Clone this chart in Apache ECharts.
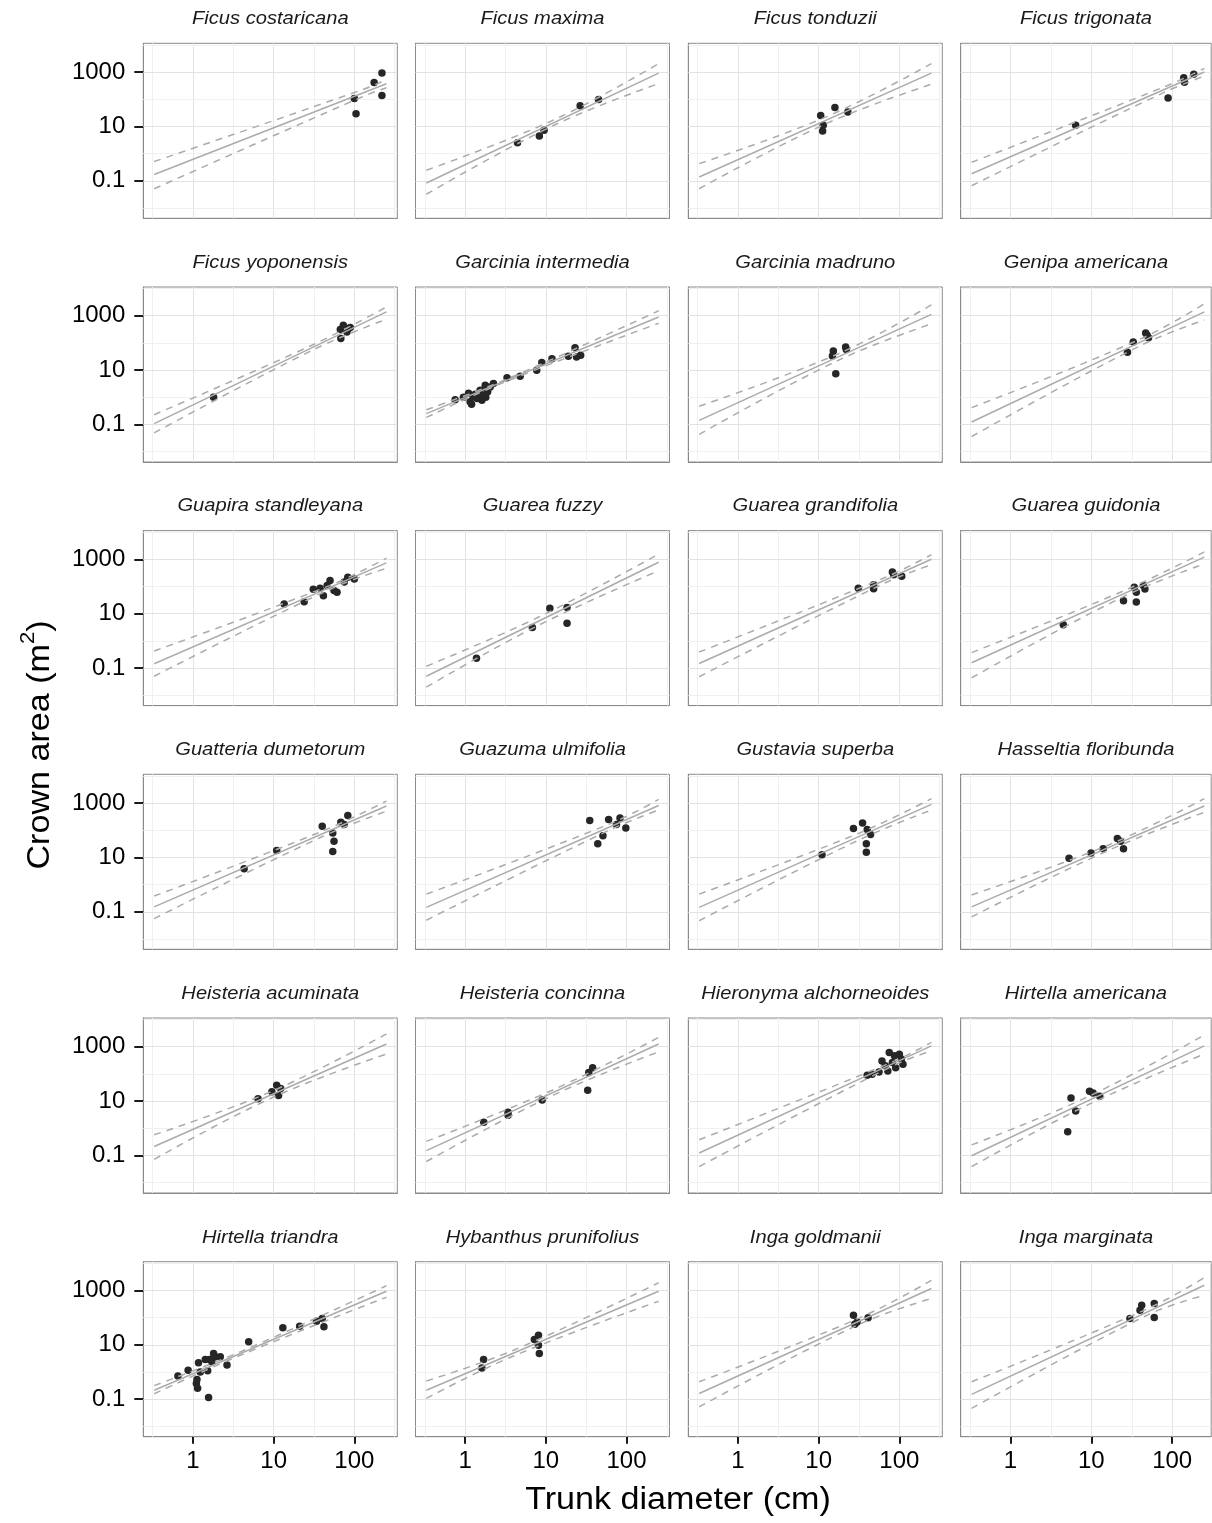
<!DOCTYPE html>
<html>
<head>
<meta charset="utf-8">
<title>Crown area vs trunk diameter</title>
<script src="https://cdn.jsdelivr.net/npm/echarts@6/dist/echarts.min.js"></script>
<style>
  html, body { margin: 0; padding: 0; background: #ffffff; }
  #chart { width: 1212px; height: 1523px; }
</style>
</head>
<body>
<div id="chart"></div>
<script>
// ---- data -------------------------------------------------------------
const species = [
  'Ficus costaricana', 'Ficus maxima', 'Ficus tonduzii', 'Ficus trigonata',
  'Ficus yoponensis', 'Garcinia intermedia', 'Garcinia madruno', 'Genipa americana',
  'Guapira standleyana', 'Guarea fuzzy', 'Guarea grandifolia', 'Guarea guidonia',
  'Guatteria dumetorum', 'Guazuma ulmifolia', 'Gustavia superba', 'Hasseltia floribunda',
  'Heisteria acuminata', 'Heisteria concinna', 'Hieronyma alchorneoides', 'Hirtella americana',
  'Hirtella triandra', 'Hybanthus prunifolius', 'Inga goldmanii', 'Inga marginata'
];

// observed trees: [trunk diameter (cm), crown area (m2)]
const trees = [
  [[220, 920], [176, 410], [100, 105], [105, 29], [220, 138]],
  [[4.45, 2.5], [8.3, 4.4], [9.5, 7.2], [26.6, 58], [45, 97]],
  [[10.6, 25], [15.9, 50], [11.4, 11], [11.2, 6.8], [23, 34]],
  [[6.4, 11], [89, 110], [139, 620], [142, 420], [185, 830]],
  [[1.8, 1.0], [67, 310], [73, 445], [85, 340], [68, 145], [81, 250], [89, 365]],
  [[0.75, 0.82], [0.95, 1.0], [1.15, 0.68], [1.33, 1.3], [1.53, 1.8], [1.77, 2.8], [2.04, 2.4],
   [1.61, 0.78], [1.4, 0.9], [2.24, 3.2], [3.3, 5.2], [8.9, 19], [11.9, 26], [23, 67], [24, 30],
   [27, 35], [1.1, 1.4], [1.8, 1.0], [1.2, 0.55], [1.25, 1.1], [1.6, 1.2], [1.9, 1.6], [4.8, 5.9],
   [7.7, 9.8], [19, 32]],
  [[15.2, 50], [14.8, 33], [21.6, 71], [22, 57], [16.3, 7.4]],
  [[33, 108], [47, 230], [51, 155], [28, 45], [49, 190]],
  [[13.5, 22.5], [23.9, 27.5], [37.6, 86], [41.4, 46], [50, 166], [56, 71], [61, 61], [75, 145],
   [83, 219], [100, 190], [46, 108], [31, 80]],
  [[1.38, 0.23], [6.8, 3.1], [11.2, 15.7], [18.3, 17], [18.3, 4.5]],
  [[31, 86], [48, 115], [48, 82], [82, 340], [85, 270], [107, 240]],
  [[4.5, 3.9], [25, 30], [34, 93], [36, 27], [44, 108], [46, 81], [36, 61]],
  [[4.3, 3.8], [10.9, 18], [40, 141], [56, 39], [54, 79], [68, 196], [83, 350], [75, 162], [54, 16.6]],
  [[35, 228], [60, 245], [83, 282], [51, 63], [44, 32], [75, 162], [98, 121]],
  [[11, 12.5], [27, 115], [35, 185], [40, 105], [44, 69], [39, 32], [39, 15.5]],
  [[5.3, 9.4], [9.9, 14.4], [14, 21], [21, 49], [23, 39], [25, 21]],
  [[6.4, 12.2], [9.5, 22], [10.9, 38], [11.5, 16], [12.2, 29]],
  [[1.7, 1.66], [3.4, 3.9], [3.4, 3.0], [9.0, 11], [33, 25], [34, 112], [38, 170]],
  [[46, 97], [61, 300], [75, 610], [87, 465], [100, 530], [111, 228], [72, 129], [56, 118],
   [90, 170], [106, 350], [82, 265], [67, 198], [40, 90]],
  [[5.6, 13], [5.1, 0.74], [6.4, 4.3], [9.5, 23], [10.5, 20], [12.7, 15]],
  [[0.65, 0.72], [0.87, 1.16], [1.12, 0.53], [1.1, 0.38], [1.17, 2.2], [1.52, 1.1], [1.42, 2.9],
   [1.6, 2.9], [1.56, 0.115], [1.8, 4.8], [1.89, 3.6], [2.18, 3.6], [1.72, 2.35], [1.14, 0.25],
   [2.64, 1.8], [4.9, 12.9], [13, 42], [21, 48], [34, 74], [40, 93], [42, 46], [1.23, 1.0]],
  [[1.69, 2.9], [1.61, 1.4], [7.2, 15.7], [8.1, 22.5], [8.3, 4.8], [8.1, 9.7]],
  [[27, 123], [30, 69], [28, 57], [41, 98]],
  [[30, 93], [40, 187], [42, 285], [60, 330], [60, 100]]
];

// fitted allometry: diameters where the fit is drawn, and crown area there
const fitDiameters = [0.33, 250];
const fitStart = [0.17, 0.083, 0.138, 0.182, 0.107, 0.251, 0.141, 0.123, 0.145, 0.050, 0.148, 0.158,
                  0.151, 0.145, 0.145, 0.151, 0.214, 0.151, 0.123, 0.098, 0.214, 0.214, 0.162, 0.151];
const fitEnd   = [372, 912, 912, 1000, 1380, 891, 1122, 1380, 741, 776, 1000, 1202,
                  776, 813, 891, 776, 1259, 1259, 1072, 1072, 933, 933, 1175, 1549];

// confidence band: diameter of narrowest point, and bounds at [start, narrowest, end]
const bandMidDiameter = [126, 12.6, 12.6, 79.4, 31.6, 3.16, 17.8, 39.8, 50.1, 7.94, 63.1, 25.1,
                         39.8, 63.1, 31.6, 15.8, 10, 12.6, 79.4, 8.91, 3.98, 3.98, 31.6, 50.1];
const bandUpper = [
  [0.51, 224, 525], [0.245, 17.4, 2042], [0.427, 22.9, 2042], [0.479, 282, 1349],
  [0.229, 89, 2089], [0.347, 4.47, 1514], [0.468, 40.7, 2512], [0.417, 135, 2754],
  [0.427, 110, 1096], [0.117, 7.24, 1549], [0.389, 200, 1479], [0.372, 69.2, 1862],
  [0.380, 91.2, 1175], [0.447, 174, 1349], [0.447, 77.6, 1445], [0.417, 27.5, 1445],
  [0.575, 24.5, 2951], [0.331, 26.9, 2188], [0.380, 263, 1445], [0.245, 14.1, 2692],
  [0.316, 5.75, 1479], [0.468, 6.31, 1905], [0.437, 95.5, 2344], [0.437, 214, 2951]
];
const bandLower = [
  [0.051, 123, 263], [0.032, 11.0, 372], [0.051, 12.9, 355], [0.066, 178, 708],
  [0.049, 57.5, 741], [0.182, 3.72, 525], [0.043, 23.4, 501], [0.036, 77.6, 692],
  [0.050, 79.4, 468], [0.020, 3.63, 380], [0.048, 126, 631], [0.044, 42.7, 676],
  [0.056, 57.5, 501], [0.049, 105, 550], [0.047, 43.7, 550], [0.065, 17.4, 457],
  [0.072, 14.1, 537], [0.060, 17.0, 646], [0.039, 186, 708], [0.039, 7.08, 537],
  [0.158, 4.27, 562], [0.107, 3.89, 398], [0.052, 56.2, 501], [0.046, 126, 661]
];

// axes (log10 scales)
const xTickValues = [1, 10, 100];
const yTickValues = [0.1, 10, 1000];
const xMinorGrid = [0.316, 3.16, 31.6, 316];
const yMinorGrid = [0.01, 1, 100, 10000];
const xLimits = [0.242, 341];
const xLimitsLastCol = [0.242, 304];
const yLimits = [0.00418, 11350];

// ---- layout -----------------------------------------------------------
const NCOL = 4, NROW = 6;
const colLeft = [143.3, 415.5, 688.3, 960.7];
const colWidth = [254, 254, 254, 250.5];
const rowTop = [43.3, 287, 530.6, 774.3, 1018, 1261.7];
const panelH = 175;
const FONT = '"Liberation Sans", Arial, Helvetica, sans-serif';
const BORDER = '#8a8a8a';

const lg = Math.log10;
const fmtTick = v => String(parseFloat(Math.pow(10, v).toPrecision(6)));

const grids = [], xAxes = [], yAxes = [], series = [], graphics = [];

species.forEach((name, i) => {
  const r = Math.floor(i / NCOL), c = i % NCOL;
  const lastRow = r === NROW - 1, firstCol = c === 0;
  const xl = c === NCOL - 1 ? xLimitsLastCol : xLimits;

  grids.push({
    left: colLeft[c], top: rowTop[r], width: colWidth[c], height: panelH,
    show: true, borderColor: BORDER, borderWidth: 1
  });

  const tickStyle = { color: '#1a1a1a', width: 2 };
  xAxes.push({
    gridIndex: i, type: 'value', min: lg(xl[0]), max: lg(xl[1]),
    axisLine: { show: true, onZero: false, lineStyle: { color: BORDER, width: 1 } },
    splitLine: { show: false },
    axisTick: { show: lastRow, customValues: xTickValues.map(lg), length: 7, lineStyle: tickStyle },
    axisLabel: { show: lastRow, customValues: xTickValues.map(lg), formatter: fmtTick,
                 fontSize: 24, fontFamily: FONT, color: '#000000', margin: 13 }
  });

  yAxes.push({
    gridIndex: i, type: 'value', min: lg(yLimits[0]), max: lg(yLimits[1]),
    axisLine: { show: true, onZero: false, lineStyle: { color: BORDER, width: 1 } },
    splitLine: { show: false },
    axisTick: { show: firstCol, customValues: yTickValues.map(lg), length: 9, lineStyle: tickStyle },
    axisLabel: { show: firstCol, customValues: yTickValues.map(lg), formatter: fmtTick,
                 fontSize: 24, fontFamily: FONT, color: '#000000', margin: 18 }
  });

  // panel grid lines (major at labelled decades, minor in between)
  const major = { color: '#e3e3e3', width: 1, type: 'solid' };
  const minor = { color: '#f0f0f0', width: 1, type: 'solid' };
  const gridLines = []
    .concat(xTickValues.map(v => ({ xAxis: lg(v), lineStyle: major })))
    .concat(xMinorGrid.map(v => ({ xAxis: lg(v), lineStyle: minor })))
    .concat(yTickValues.map(v => ({ yAxis: lg(v), lineStyle: major })))
    .concat(yMinorGrid.map(v => ({ yAxis: lg(v), lineStyle: minor })));
  series.push({
    type: 'line', xAxisIndex: i, yAxisIndex: i, data: [], z: 1, silent: true,
    markLine: { silent: true, z: 1, symbol: ['none', 'none'], label: { show: false },
                lineStyle: { type: 'solid' }, emphasis: { disabled: true },
                animation: false, data: gridLines }
  });

  series.push({
    type: 'scatter', xAxisIndex: i, yAxisIndex: i, z: 2, silent: true,
    symbolSize: 7.5, itemStyle: { color: '#262626', opacity: 1 },
    data: trees[i].map(([d, a]) => [lg(d), lg(a)])
  });

  const lineBase = { type: 'line', xAxisIndex: i, yAxisIndex: i, z: 3, silent: true,
                     symbol: 'none', showSymbol: false };
  series.push(Object.assign({}, lineBase, {
    lineStyle: { color: '#ababab', width: 1.5 },
    data: [[lg(fitDiameters[0]), lg(fitStart[i])], [lg(fitDiameters[1]), lg(fitEnd[i])]]
  }));
  const bandX = [fitDiameters[0], bandMidDiameter[i], fitDiameters[1]];
  [bandUpper[i], bandLower[i]].forEach(b => {
    series.push(Object.assign({}, lineBase, {
      smooth: 0.4,
      lineStyle: { color: '#ababab', width: 1.5, type: [7, 6] },
      data: bandX.map((d, k) => [lg(d), lg(b[k])])
    }));
  });

  graphics.push({
    type: 'text', x: colLeft[c] + colWidth[c] / 2, y: rowTop[r] - 24, scaleX: 1.15, silent: true,
    style: { text: name, font: 'italic 17.5px ' + FONT, fill: '#1a1a1a',
             textAlign: 'center', textVerticalAlign: 'middle', align: 'center', verticalAlign: 'middle' }
  });
});

// axis titles
graphics.push({
  type: 'text', x: 678, y: 1500, scaleX: 1.1, silent: true,
  style: { text: 'Trunk diameter (cm)', font: '31px ' + FONT, fill: '#000000',
           textAlign: 'center', textVerticalAlign: 'middle', align: 'center', verticalAlign: 'middle' }
});
graphics.push({
  type: 'text', x: 36, y: 745, rotation: Math.PI / 2, scaleX: 1.1, silent: true,
  style: {
    text: '{t|Crown area (m}{s|2}{t|)}',
    textAlign: 'center', textVerticalAlign: 'middle', align: 'center', verticalAlign: 'middle',
    rich: {
      t: { font: '31px ' + FONT, fill: '#000000', lineHeight: 40, verticalAlign: 'bottom' },
      s: { font: '20px ' + FONT, fill: '#000000', lineHeight: 40, verticalAlign: 'top', padding: [2, 0, 0, 0] }
    }
  }
});

const chart = echarts.init(document.getElementById('chart'), null, { renderer: 'canvas' });
chart.setOption({
  animation: false,
  backgroundColor: '#ffffff',
  grid: grids,
  xAxis: xAxes,
  yAxis: yAxes,
  series: series,
  graphic: graphics
});
</script>
</body>
</html>
